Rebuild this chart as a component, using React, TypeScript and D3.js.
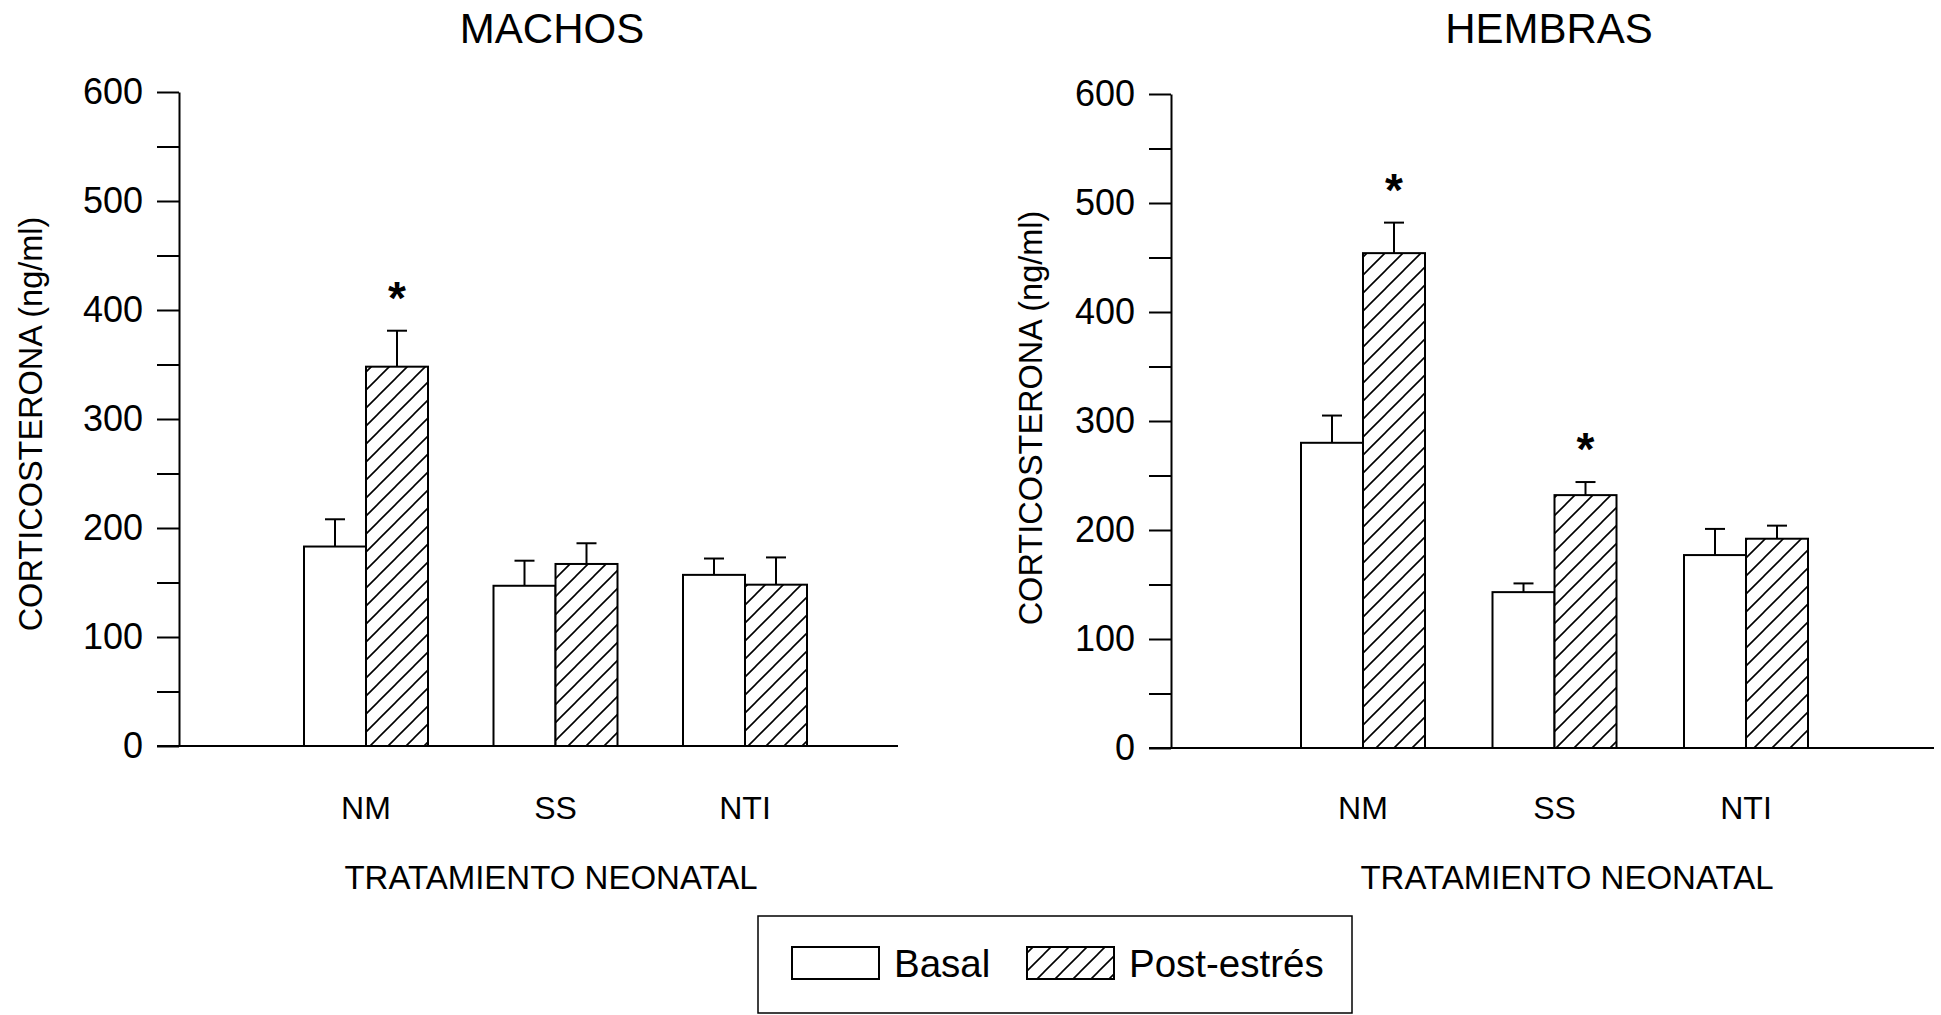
import { useEffect, useRef } from 'react';
import * as d3 from 'd3';

const categories = ['NM', 'SS', 'NTI'];
const seriesNames = ['Basal', 'Post-estrés'];
const yTickValues = [0, 50, 100, 150, 200, 250, 300, 350, 400, 450, 500, 550, 600];

// MACHOS
const machosBasal = [183, 147, 157];
const machosBasalErr = [25, 23, 15];
const machosPost = [348, 167, 148];
const machosPostErr = [33, 19, 25];
const machosSig = [true, false, false];

// HEMBRAS
const hembrasBasal = [280, 143, 177];
const hembrasBasalErr = [25, 8, 24];
const hembrasPost = [454, 232, 192];
const hembrasPostErr = [28, 12, 12];
const hembrasSig = [true, true, false];

const W = 1941;
const H = 1015;
const FONT = '"Liberation Sans", Arial, Helvetica, sans-serif';

interface Panel {
  title: string;
  basal: number[];
  basalErr: number[];
  post: number[];
  postErr: number[];
  sig: boolean[];
  axisX: number;
  top: number;
  bottom: number;
  axisEnd: number;
  first: number;
  last: number;
  titleX: number;
  yTitleX: number;
  yTitleY: number;
  xTitleX: number;
}

const panels: Panel[] = [
  {
    title: 'MACHOS', basal: machosBasal, basalErr: machosBasalErr, post: machosPost, postErr: machosPostErr, sig: machosSig,
    axisX: 179, top: 92, bottom: 746, axisEnd: 898, first: 366, last: 745, titleX: 552, yTitleX: 31, yTitleY: 424, xTitleX: 551,
  },
  {
    title: 'HEMBRAS', basal: hembrasBasal, basalErr: hembrasBasalErr, post: hembrasPost, postErr: hembrasPostErr, sig: hembrasSig,
    axisX: 1171, top: 94, bottom: 748, axisEnd: 1934, first: 1363, last: 1746, titleX: 1549, yTitleX: 1031, yTitleY: 418, xTitleX: 1567,
  },
];

export default function App() {
  const svgRef = useRef<SVGSVGElement>(null);

  useEffect(() => {
    if (!svgRef.current) return;
    const svg = d3.select(svgRef.current);
    svg.selectAll('*').remove();

    svg.append('rect').attr('width', W).attr('height', H).attr('fill', '#fff');

    // hatch pattern
    const s = 18;
    svg.append('defs').append('pattern')
      .attr('id', 'hatch').attr('patternUnits', 'userSpaceOnUse')
      .attr('width', s).attr('height', s)
      .call((p) => {
        p.append('rect').attr('width', s).attr('height', s).attr('fill', '#fff');
        p.append('path')
          .attr('d', `M-2,2 L2,-2 M0,${s} L${s},0 M${s - 2},${s + 2} L${s + 2},${s - 2}`)
          .attr('stroke', '#000').attr('stroke-width', 1.6);
      });

    panels.forEach((p) => {
      const y = d3.scaleLinear().domain([0, 600]).range([p.bottom, p.top]);
      const xg = d3.scalePoint<string>().domain(categories).range([p.first, p.last]);
      const xs = d3.scaleBand<string>().domain(seriesNames).range([-62, 62]);
      const g = svg.append('g');

      // title
      g.append('text')
        .attr('x', p.titleX).attr('y', 43)
        .attr('text-anchor', 'middle')
        .style('font-family', FONT).style('font-size', '42px')
        .text(p.title);

      // y axis
      g.append('g')
        .attr('transform', `translate(${p.axisX},0)`)
        .call(d3.axisLeft(y).tickValues(yTickValues).tickSize(22).tickSizeOuter(0).tickPadding(14)
          .tickFormat((d) => ((d as number) % 100 === 0 ? String(d) : '')))
        .call((a) => {
          a.selectAll('line').attr('stroke', '#000').attr('stroke-width', 2);
          a.select('.domain').attr('stroke', '#000').attr('stroke-width', 2);
          a.selectAll('text').attr('fill', '#000').style('font-family', FONT).style('font-size', '36px');
        });

      // x axis baseline
      g.append('line')
        .attr('x1', p.axisX - 22).attr('x2', p.axisEnd)
        .attr('y1', y(0)).attr('y2', y(0))
        .attr('stroke', '#000').attr('stroke-width', 2);

      // y title
      g.append('text')
        .attr('transform', `translate(${p.yTitleX},${p.yTitleY}) rotate(-90)`)
        .attr('text-anchor', 'middle').attr('dominant-baseline', 'central')
        .style('font-family', FONT).style('font-size', '32.5px')
        .text('CORTICOSTERONA (ng/ml)');

      // category labels
      categories.forEach((c) => {
        g.append('text')
          .attr('x', xg(c)!).attr('y', 819)
          .attr('text-anchor', 'middle')
          .style('font-family', FONT).style('font-size', '32px')
          .text(c);
      });

      // x title
      g.append('text')
        .attr('x', p.xTitleX).attr('y', 889)
        .attr('text-anchor', 'middle')
        .style('font-family', FONT).style('font-size', '33px')
        .text('TRATAMIENTO NEONATAL');

      // bars
      categories.forEach((c, i) => {
        const rows = [
          { name: seriesNames[0], v: p.basal[i], e: p.basalErr[i], fill: '#fff', sig: false },
          { name: seriesNames[1], v: p.post[i], e: p.postErr[i], fill: 'url(#hatch)', sig: p.sig[i] },
        ];
        rows.forEach((r) => {
          const x0 = xg(c)! + xs(r.name)!;
          const bw = xs.bandwidth();
          const cx = x0 + bw / 2;
          g.append('rect')
            .attr('x', x0).attr('y', y(r.v))
            .attr('width', bw).attr('height', y(0) - y(r.v))
            .attr('fill', r.fill).attr('stroke', '#000').attr('stroke-width', 2);
          g.append('line')
            .attr('x1', cx).attr('x2', cx)
            .attr('y1', y(r.v)).attr('y2', y(r.v + r.e))
            .attr('stroke', '#000').attr('stroke-width', 2);
          g.append('line')
            .attr('x1', cx - 10).attr('x2', cx + 10)
            .attr('y1', y(r.v + r.e)).attr('y2', y(r.v + r.e))
            .attr('stroke', '#000').attr('stroke-width', 2);
          if (r.sig) {
            g.append('text')
              .attr('x', cx).attr('y', y(r.v + r.e) - 17)
              .attr('text-anchor', 'middle')
              .style('font-family', FONT).style('font-size', '46px').style('font-weight', 'bold')
              .text('*');
          }
        });
      });
    });

    // legend
    const lg = svg.append('g');
    lg.append('rect')
      .attr('x', 758).attr('y', 916).attr('width', 594).attr('height', 97)
      .attr('fill', '#fff').attr('stroke', '#000').attr('stroke-width', 1.5);
    const items = [
      { name: seriesNames[0], fill: '#fff', sx: 792, tx: 894 },
      { name: seriesNames[1], fill: 'url(#hatch)', sx: 1027, tx: 1129 },
    ];
    items.forEach((it) => {
      lg.append('rect')
        .attr('x', it.sx).attr('y', 947).attr('width', 87).attr('height', 32)
        .attr('fill', it.fill).attr('stroke', '#000').attr('stroke-width', 2);
      lg.append('text')
        .attr('x', it.tx).attr('y', 977)
        .style('font-family', FONT).style('font-size', '38.5px')
        .text(it.name);
    });
  }, []);

  return (
    <svg
      ref={svgRef}
      width={W}
      height={H}
      style={{ position: 'absolute', left: 0, top: 0, display: 'block' }}
    />
  );
}
